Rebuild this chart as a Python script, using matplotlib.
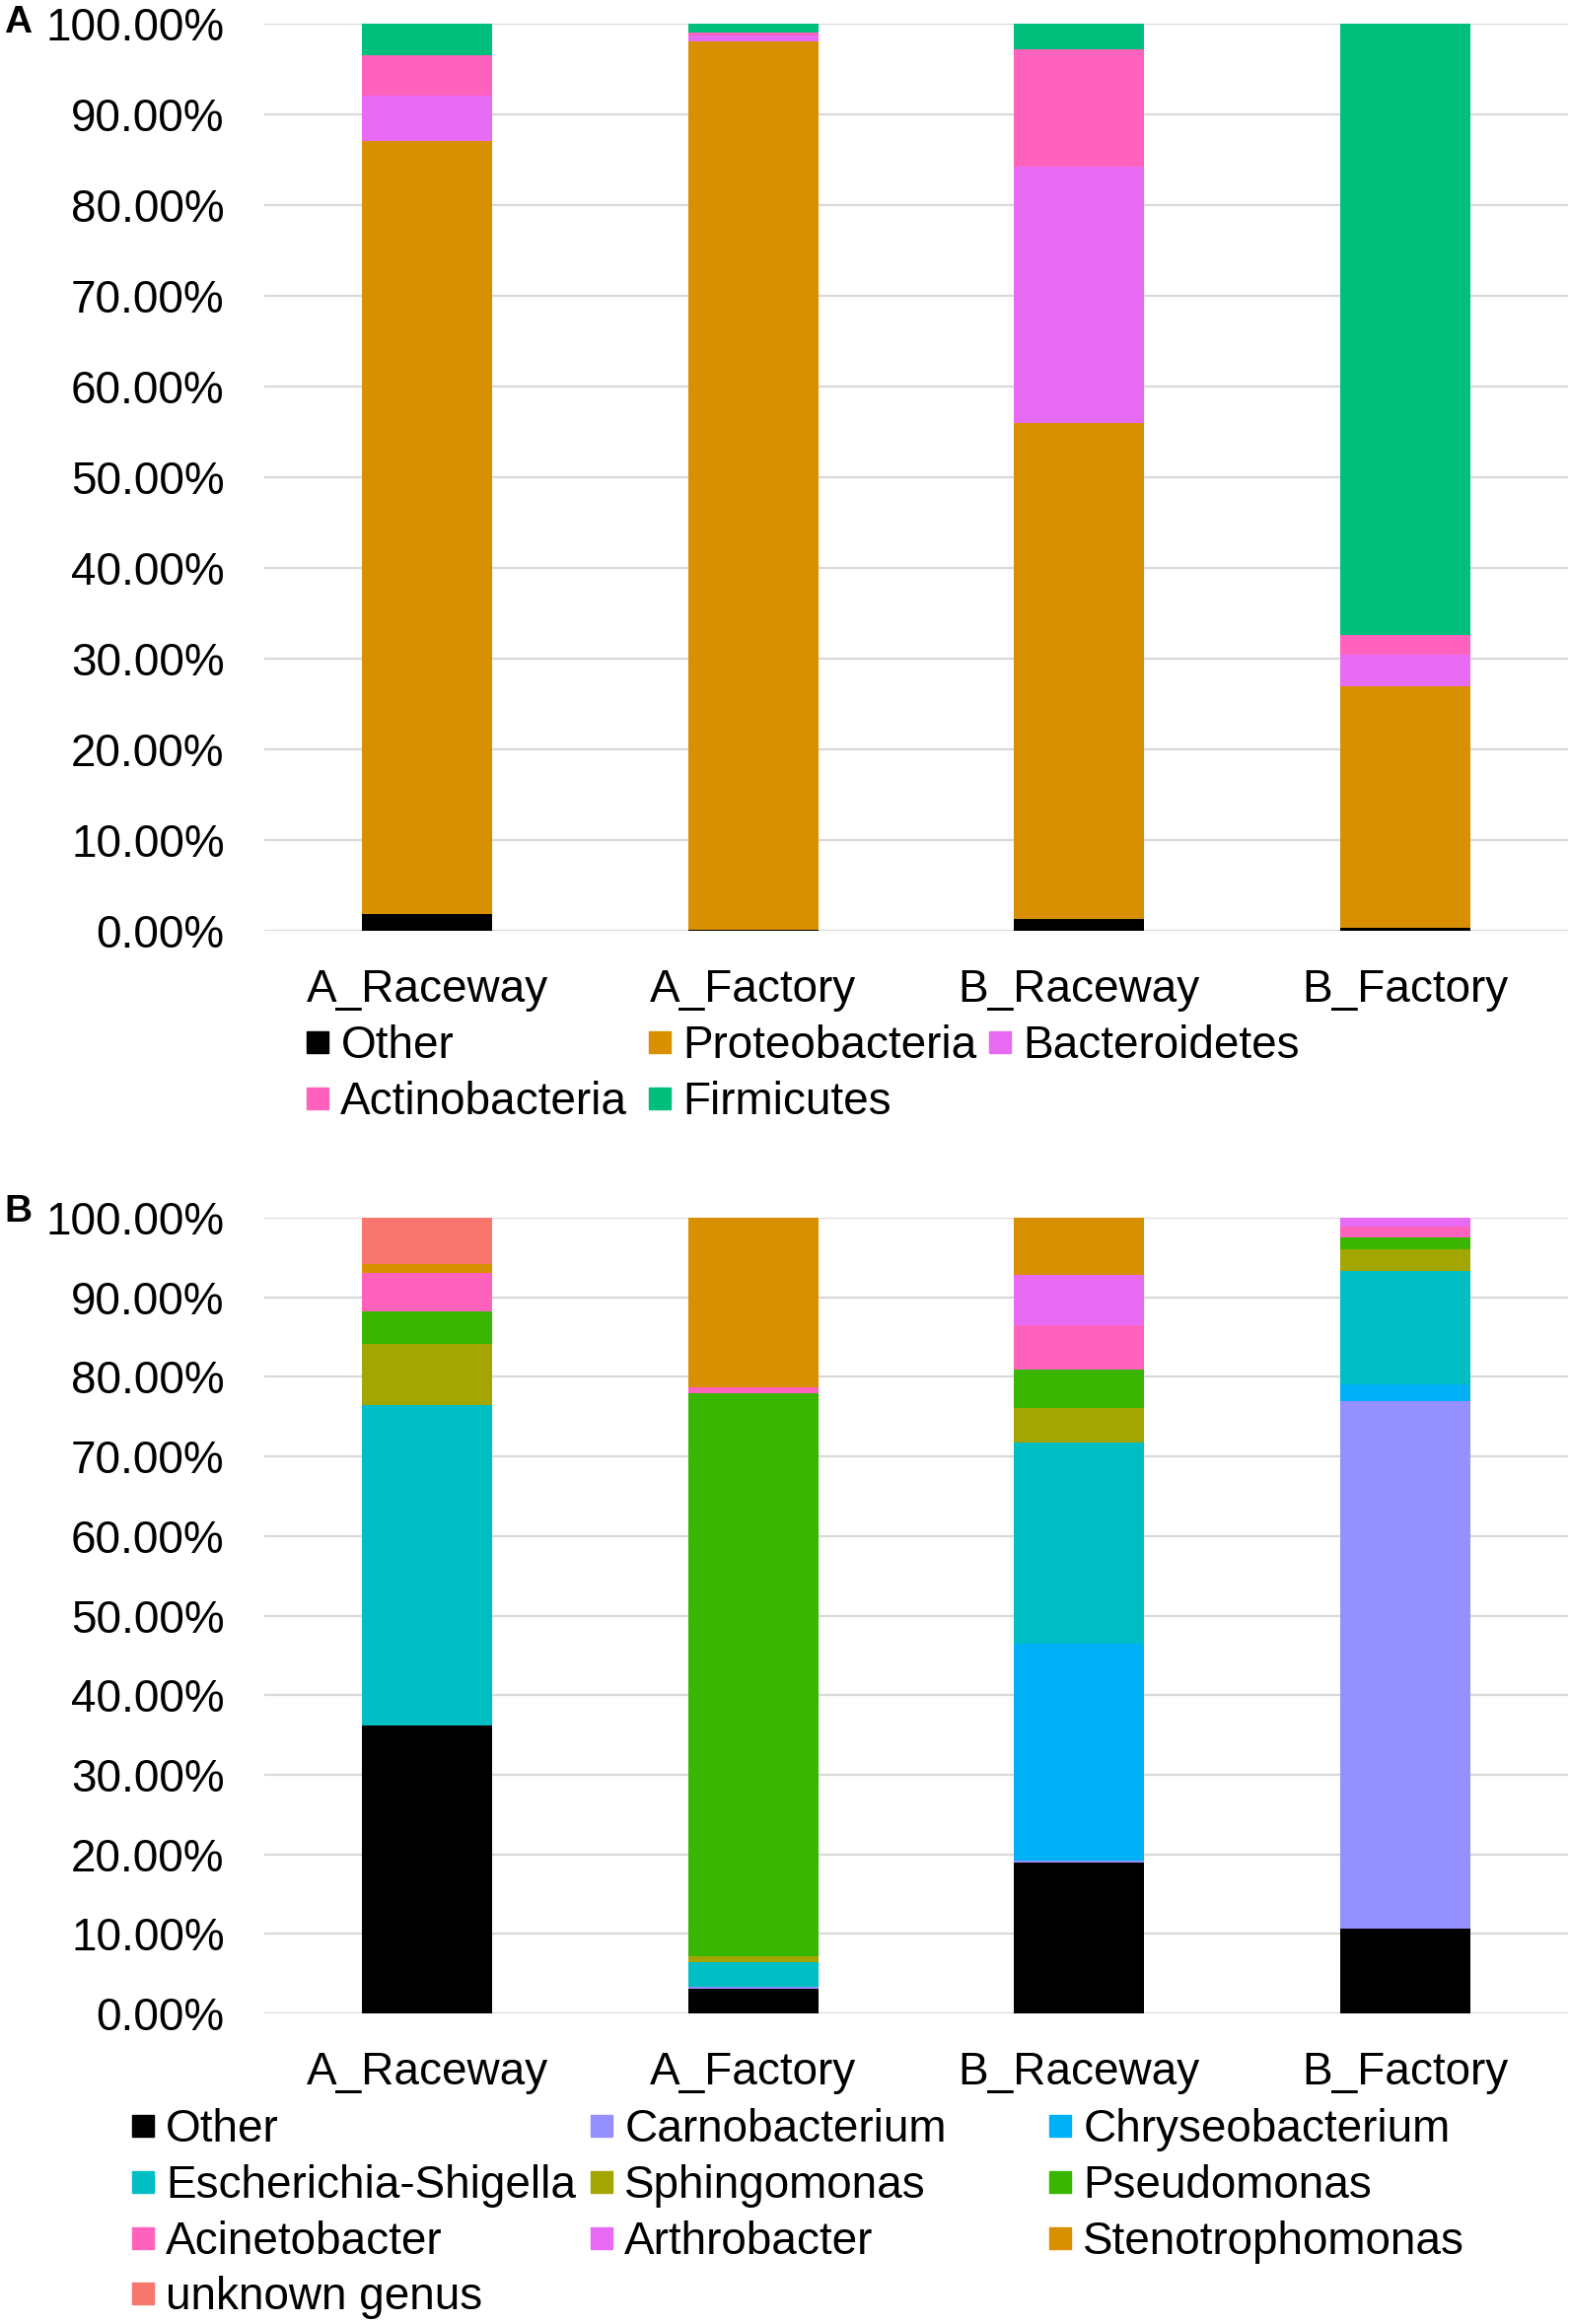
import matplotlib
matplotlib.use("Agg")
import matplotlib.pyplot as plt
from matplotlib.lines import Line2D
from matplotlib.ticker import FuncFormatter, MultipleLocator
import numpy as np

plt.rcParams['font.family'] = ['Liberation Sans', 'DejaVu Sans']

samples = ['A_Raceway', 'A_Factory', 'B_Raceway', 'B_Factory']

# Panel A (phylum), percent
phyla = ['Other', 'Proteobacteria', 'Bacteroidetes', 'Actinobacteria', 'Firmicutes']
p_other = [1.9, 0.1, 1.3, 0.3]
p_proteo = [85.2, 97.9, 54.7, 26.7]
p_bacter = [5.0, 0.7, 28.2, 3.4]
p_actino = [4.4, 0.3, 13.0, 2.2]
p_firm = [3.5, 1.0, 2.8, 67.4]
phylum_colors = ['#000000', '#D89000', '#E76BF3', '#FF62BC', '#00BF7D']

# Panel B (genus), percent
genera = ['Other', 'Carnobacterium', 'Chryseobacterium', 'Escherichia-Shigella',
          'Sphingomonas', 'Pseudomonas', 'Acinetobacter', 'Arthrobacter',
          'Stenotrophomonas', 'unknown genus']
g_other = [36.2, 3.1, 19.0, 10.7]
g_carno = [0.0, 0.3, 0.2, 66.3]
g_chryseo = [0.0, 0.0, 27.3, 2.0]
g_esch = [40.2, 3.1, 25.2, 14.3]
g_sphingo = [7.8, 0.7, 4.4, 2.7]
g_pseudo = [4.0, 70.8, 4.8, 1.5]
g_acineto = [4.8, 0.7, 5.6, 1.4]
g_arthro = [0.0, 0.0, 6.3, 1.1]
g_steno = [1.2, 21.3, 7.2, 0.0]
g_unknown = [5.8, 0.0, 0.0, 0.0]
genus_colors = ['#000000', '#9590FF', '#00B0F6', '#00BFC4', '#A3A500',
                '#39B600', '#FF62BC', '#E76BF3', '#D89000', '#F8766D']

W, H = 1592, 2357
fig = plt.figure(figsize=(W / 100, H / 100), dpi=100)

FS = 33


def fy(px):
    return 1 - px / H


def draw_panel(ax, series, colors):
    x = np.arange(len(samples))
    bottom = np.zeros(len(samples))
    for vals, c in zip(series, colors):
        v = np.array(vals, dtype=float)
        ax.bar(x, v, 0.4, bottom=bottom, color=c, zorder=3, linewidth=0)
        bottom += v
    ax.set_xlim(-0.5, 3.5)
    ax.set_ylim(0, 100)
    ax.yaxis.set_major_locator(MultipleLocator(10))
    ax.yaxis.set_major_formatter(FuncFormatter(lambda v, p: f"{v:.2f}%"))
    ax.grid(axis='y', color='#D9D9D9', linewidth=1.6, zorder=0)
    ax.set_axisbelow(True)
    for s in ax.spines.values():
        s.set_visible(False)
    ax.tick_params(axis='both', length=0, labelsize=FS)
    ax.tick_params(axis='y', pad=29)
    ax.tick_params(axis='x', pad=27)
    ax.set_xticks(x)
    ax.set_xticklabels(samples)


left = 268 / W
width = 1322 / W

axA = fig.add_axes([left, fy(944), width, (944 - 24) / H])
draw_panel(axA, [p_other, p_proteo, p_bacter, p_actino, p_firm], phylum_colors)

axB = fig.add_axes([left, fy(2042), width, (2042 - 1235) / H])
draw_panel(axB, [g_other, g_carno, g_chryseo, g_esch, g_sphingo, g_pseudo,
                 g_acineto, g_arthro, g_steno, g_unknown], genus_colors)


def rowwise_legend(names, colors, col_x, top_px):
    # Excel-style legend: entries fill row by row in equal-width columns
    ncol = len(col_x)
    for c in range(ncol):
        idx = list(range(c, len(names), ncol))
        handles = [Line2D([], [], linestyle='none', marker='s', markersize=16,
                          markerfacecolor=colors[i], markeredgecolor=colors[i])
                   for i in idx]
        labels = [names[i] for i in idx]
        leg = fig.legend(handles, labels, ncol=1, loc='upper left',
                         bbox_to_anchor=(col_x[c] / W, fy(top_px)),
                         frameon=False, fontsize=FS, handlelength=0.5,
                         handletextpad=0.25, labelspacing=0.28,
                         borderpad=0, borderaxespad=0)


rowwise_legend(phyla, phylum_colors, [311, 658, 1003], 1039)
rowwise_legend(genera, genus_colors, [134, 599, 1064], 2138)

fig.text(4 / W, fy(23), 'A', fontsize=28, fontweight='bold', ha='left', va='center')
fig.text(4 / W, fy(1229), 'B', fontsize=28, fontweight='bold', ha='left', va='center')

fig.savefig('out.png', dpi=100, facecolor='white')
